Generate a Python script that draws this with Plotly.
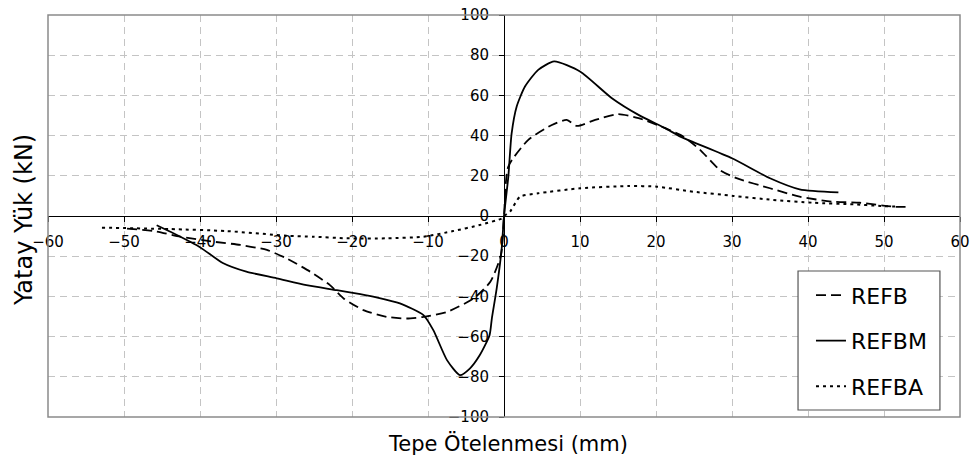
import plotly.graph_objects as go

# ---- data ----
refb_x = [-49.6, -46.0, -42.6, -38.2, -34.7, -31.2, -28.6, -25.5, -22.9, -21.1, -18.5, -15.4,
          -12.8, -10.6, -7.5, -4.0, -1.8, -0.4, 0.0, 0.57, 3.2, 6.3, 8.25, 9.6, 12.0, 15.0,
          17.7, 21.2, 23.6, 25.8, 28.4, 30.6, 35.0, 38.9, 43.3, 46.8, 51.4, 53.4]
refb_y = [-6.3, -7.5, -10.3, -12.8, -14.4, -16.9, -21.1, -27.7, -34.4, -41.0, -46.8, -50.2,
          -51.0, -50.2, -47.7, -41.0, -32.7, -19.4, 0.0, 24.6, 37.9, 45.3, 47.8, 44.8, 47.8, 50.7,
          48.7, 43.7, 39.5, 32.9, 22.9, 18.8, 13.8, 9.6, 7.1, 6.6, 4.6, 4.6]

refbm_x = [-45.7, -43.5, -40.0, -37.0, -33.9, -29.9, -26.0, -22.0, -18.9, -16.8, -13.7, -10.6,
           -9.3, -7.5, -5.8, -4.5, -3.2, -1.9, -1.6, -0.96, -0.3, 0.0, 0.57, 1.0, 1.67, 2.76,
           4.5, 6.6, 10.0, 14.2, 17.7, 21.2, 23.2, 30.0, 35.0, 38.9, 44.0]
refbm_y = [-4.6, -8.6, -15.5, -23.4, -27.7, -31.0, -34.4, -36.9, -38.9, -40.5, -43.5, -49.3,
           -56.8, -71.7, -79.2, -75.9, -69.3, -59.3, -51.0, -36.0, -16.0, 0.0, 19.6, 41.0, 54.5, 64.4,
           72.7, 76.9, 71.9, 58.6, 50.3, 43.7, 39.5, 28.7, 18.8, 13.3, 11.8]

refba_x = [-52.9, -44.0, -36.5, -28.6, -25.1, -20.7, -15.4, -10.6, -6.7, -3.2, -0.3, 0.0,
           0.8, 2.1, 4.5, 10.0, 16.4, 20.1, 24.9, 30.2, 35.4, 40.7, 46.0, 49.5, 52.0]
refba_y = [-5.8, -6.5, -7.5, -9.8, -10.3, -11.1, -11.1, -10.3, -7.5, -4.5, -1.2, 0.0,
           2.2, 9.6, 11.3, 13.8, 14.9, 14.6, 12.1, 10.0, 8.0, 6.6, 5.8, 5.0, 4.6]

series_names = ["REFB", "REFBM", "REFBA"]

x_title = "Tepe Ötelenmesi (mm)"
y_title = "Yatay Yük (kN)"

FONT = "DejaVu Sans, Verdana, sans-serif"

fig = go.Figure()
fig.add_trace(go.Scatter(x=refb_x, y=refb_y, mode="lines", name=series_names[0],
                         legendgroup="a",
                         line=dict(color="black", width=1.8, dash="10px,5px",
                                   shape="spline", smoothing=0.6)))
fig.add_trace(go.Scatter(x=refbm_x, y=refbm_y, mode="lines", name=series_names[1],
                         legendgroup="b",
                         line=dict(color="black", width=1.8, shape="spline", smoothing=0.6)))
fig.add_trace(go.Scatter(x=refba_x, y=refba_y, mode="lines", name=series_names[2],
                         legendgroup="c",
                         line=dict(color="black", width=2, dash="3px,4px",
                                   shape="spline", smoothing=0.6)))

axis_common = dict(
    showgrid=True, gridcolor="#c4c4c4", gridwidth=1, griddash="7px,5px",
    zeroline=False, showline=True, linecolor="black", linewidth=1,
    ticks="outside", ticklen=5, tickwidth=1, tickcolor="black",
    tickfont=dict(family=FONT, size=15, color="black"),
    automargin=False,
    anchor="free", position=0.5,
)

fig.update_layout(
    width=974, height=461,
    margin=dict(l=48, r=14, t=15, b=44),
    paper_bgcolor="white", plot_bgcolor="white",
    font=dict(family=FONT, color="black"),
    xaxis=dict(range=[-60, 60], dtick=10, tick0=0, ticklabelstandoff=7, **axis_common),
    yaxis=dict(range=[-100, 100], dtick=20, tick0=0, ticklabelstandoff=7, **axis_common),
    showlegend=True,
    legend=dict(x=0.8366, y=0.355, xanchor="left", yanchor="top",
                bgcolor="rgba(0,0,0,0)", borderwidth=0,
                font=dict(family=FONT, size=22, color="black"),
                traceorder="grouped", tracegroupgap=14),
    shapes=[
        dict(type="rect", xref="paper", yref="paper", x0=0, x1=1, y0=0, y1=1,
             line=dict(color="#8a8a8a", width=1.5), layer="above"),
        dict(type="rect", xref="paper", yref="paper", x0=0.8224, x1=0.978,
             y0=0.0174, y1=0.3632, fillcolor="white",
             line=dict(color="#555555", width=1.2), layer="above"),
    ],
    annotations=[
        dict(text=x_title, xref="paper", yref="paper", x=0.5044, y=-0.0647,
             xanchor="center", yanchor="middle", showarrow=False,
             font=dict(family=FONT, size=21, color="black")),
        dict(text=y_title, xref="paper", yref="paper", x=-0.0263, y=0.49,
             xanchor="center", yanchor="middle", showarrow=False, textangle=-90,
             font=dict(family=FONT, size=24, color="black")),
    ],
)

fig.write_html(
    "out.html",
    config={"displayModeBar": False},
    post_script="document.body.style.margin='0px'; document.body.style.overflow='hidden';",
)
